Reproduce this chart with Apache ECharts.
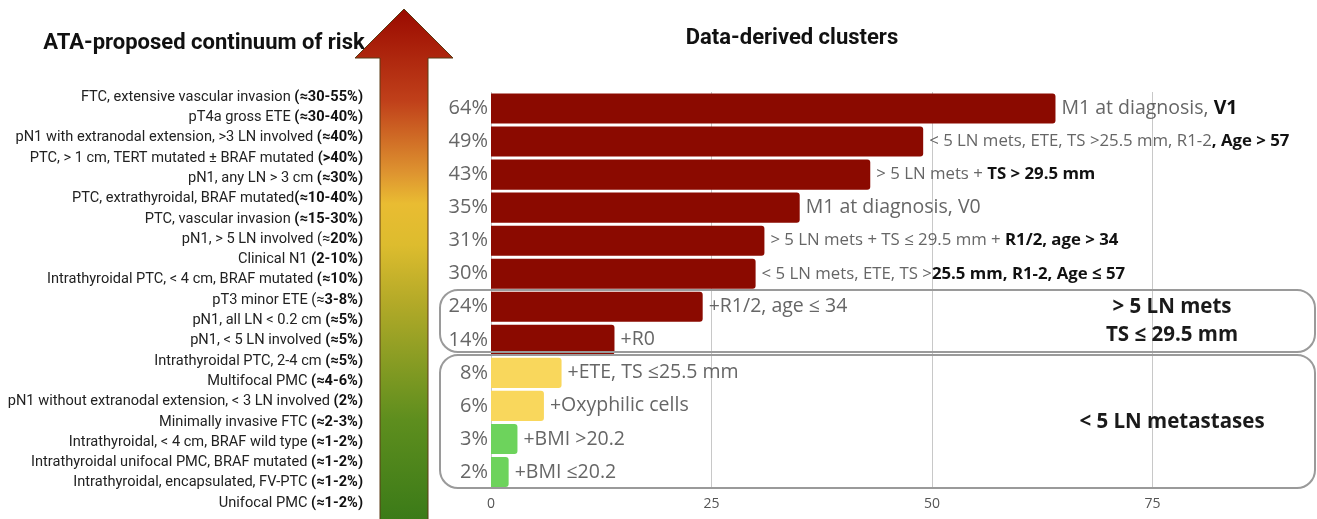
<!DOCTYPE html>
<html>
<head>
<meta charset="utf-8">
<script src="https://cdn.jsdelivr.net/npm/echarts@6/dist/echarts.min.js"></script>
<style>
html,body{margin:0;padding:0;background:#fff;}
#chart{width:1317px;height:519px;}
</style>
</head>
<body>
<div id="chart"></div>
<script>
// ---- Data ----
const clusterValues = [64, 49, 43, 35, 31, 30, 24, 14, 8, 6, 3, 2];
const clusterTier = ['high','high','high','high','high','high','high','high','mid','mid','low','low'];
const clusterPlain = [
  'M1 at diagnosis, ',
  '< 5 LN mets, ETE, TS >25.5 mm, R1-2',
  '> 5 LN mets + ',
  'M1 at diagnosis, V0',
  '> 5 LN mets + TS \u2264 29.5 mm + ',
  '< 5 LN mets, ETE, TS >',
  '+R1/2, age \u2264 34',
  '+R0',
  '+ETE, TS \u226425.5 mm',
  '+Oxyphilic cells',
  '+BMI >20.2',
  '+BMI \u226420.2'
];
const clusterBold = ['V1', ', Age > 57', 'TS > 29.5 mm', '', 'R1/2, age > 34', '25.5 mm, R1-2, Age \u2264 57', '', '', '', '', '', ''];
const xTicks = [0, 25, 50, 75];

const ataPlain = [
  'FTC, extensive vascular invasion ',
  'pT4a gross ETE ',
  'pN1 with extranodal extension, >3 LN involved ',
  'PTC, > 1 cm, TERT mutated \u00b1 BRAF mutated ',
  'pN1, any LN > 3 cm ',
  'PTC, extrathyroidal, BRAF mutated',
  'PTC, vascular invasion ',
  'pN1, > 5 LN involved (\u2248',
  'Clinical N1 ',
  'Intrathyroidal PTC, < 4 cm, BRAF mutated ',
  'pT3 minor ETE (\u2248',
  'pN1, all LN < 0.2 cm ',
  'pN1, < 5 LN involved ',
  'Intrathyroidal PTC, 2-4 cm ',
  'Multifocal PMC ',
  'pN1 without extranodal extension, < 3 LN involved ',
  'Minimally invasive FTC ',
  'Intrathyroidal, < 4 cm, BRAF wild type ',
  'Intrathyroidal unifocal PMC, BRAF mutated ',
  'Intrathyroidal, encapsulated, FV-PTC ',
  'Unifocal PMC '
];
const ataRisk = [
  '(\u224830-55%)', '(\u224830-40%)', '(\u224840%)', '(>40%)', '(\u224830%)', '(\u224810-40%)', '(\u224815-30%)',
  '20%)', '(2-10%)', '(\u224810%)', '3-8%)', '(\u22485%)', '(\u22485%)', '(\u22485%)', '(\u22484-6%)', '(2%)',
  '(\u22482-3%)', '(\u22481-2%)', '(\u22481-2%)', '(\u22481-2%)', '(\u22481-2%)'
];

// ---- Styles ----
const tierColor = { high: '#8B0A00', mid: '#F9D75C', low: '#6DD35C' };
const sideFont = '"Open Sans", "DejaVu Sans", sans-serif';
const leftFont = 'Roboto, "Noto Sans", sans-serif';

const chart = echarts.init(document.getElementById('chart'), null, { renderer: 'canvas' });

const option = {
  animation: false,
  backgroundColor: '#ffffff',
  title: [
    { text: 'ATA-proposed continuum of risk', left: 199, top: 27, textAlign: 'center',
      textStyle: { fontFamily: leftFont, fontWeight: 'bold', fontSize: 22, color: '#111' } },
    { text: 'Data-derived clusters', left: 787, top: 22, textAlign: 'center',
      textStyle: { fontFamily: leftFont, fontWeight: 'bold', fontSize: 22, color: '#111' } }
  ],
  grid: [
    { left: 491, width: 882, top: 92, bottom: 30.5, containLabel: false, outerBoundsMode: 'none' },
    { left: 364, width: 1, top: 86.9, bottom: 5.8, containLabel: false, outerBoundsMode: 'none' }
  ],
  xAxis: [
    { gridIndex: 0, type: 'value', min: 0, max: 100, interval: 25,
      axisLine: { show: false }, axisTick: { show: false },
      splitLine: { show: true, lineStyle: { color: '#c8c8c8', width: 1 } },
      axisLabel: { fontFamily: sideFont, fontSize: 14, color: '#555', margin: 9,
        formatter: v => (xTicks.indexOf(v) >= 0 ? String(v) : '') } },
    { gridIndex: 1, type: 'value', show: false }
  ],
  yAxis: [
    { gridIndex: 0, type: 'category', inverse: true,
      data: clusterValues.map(v => v + '%'),
      axisLine: { show: false }, axisTick: { show: false }, splitLine: { show: false },
      axisLabel: { fontFamily: sideFont, fontSize: 20, color: '#666', margin: 3 } },
    { gridIndex: 1, type: 'category', inverse: true, data: ataPlain,
      axisLine: { show: false }, axisTick: { show: false }, splitLine: { show: false },
      axisLabel: { margin: 1, interval: 0,
        formatter: (v, i) => '{n|' + v + '}{b|' + ataRisk[i] + '}',
        rich: {
          n: { fontFamily: leftFont, fontSize: 14.6, color: '#222' },
          b: { fontFamily: leftFont, fontSize: 14.6, color: '#111', fontWeight: 'bold' }
        } } }
  ],
  series: [{
    type: 'bar',
    xAxisIndex: 0, yAxisIndex: 0,
    barCategoryGap: '9%',
    data: clusterValues.map((v, i) => ({ value: v, itemStyle: { color: tierColor[clusterTier[i]] } })),
    itemStyle: { borderRadius: [0, 3, 3, 0] },
    label: {
      show: true, position: 'right', distance: 6,
      formatter: p => {
        const i = p.dataIndex;
        const small = (clusterPlain[i] + clusterBold[i]).length > 22;
        const s = small ? 's' : 'l';
        let out = '{' + s + 'n|' + clusterPlain[i] + '}';
        if (clusterBold[i]) out += '{' + s + 'b|' + clusterBold[i] + '}';
        return out;
      },
      rich: {
        sn: { fontFamily: sideFont, fontSize: 16.8, color: '#666' },
        sb: { fontFamily: sideFont, fontSize: 16.8, color: '#111', fontWeight: 'bold' },
        ln: { fontFamily: sideFont, fontSize: 19.5, color: '#666' },
        lb: { fontFamily: sideFont, fontSize: 19.5, color: '#111', fontWeight: 'bold' }
      }
    }
  }],
  graphic: [
    {
      type: 'polygon', z: 10,
      shape: { points: [[404, 9], [453, 58], [428, 58], [428, 522], [380, 522], [380, 58], [355, 58]] },
      style: {
        stroke: '#5a3a14', lineWidth: 1,
        fill: new echarts.graphic.LinearGradient(0, 0, 0, 1, [
          { offset: 0, color: '#9A0A00' },
          { offset: 0.18, color: '#C0401A' },
          { offset: 0.32, color: '#DE9430' },
          { offset: 0.38, color: '#E9BC32' },
          { offset: 0.46, color: '#DDBC2E' },
          { offset: 0.57, color: '#B4AA28' },
          { offset: 0.67, color: '#8E9E24' },
          { offset: 0.80, color: '#5E8E1E' },
          { offset: 1, color: '#3A7A18' }
        ])
      }
    },
    { type: 'rect', z: 5, shape: { x: 440, y: 290, width: 875, height: 62, r: 18 },
      style: { fill: 'none', stroke: '#9a9a9a', lineWidth: 2 } },
    { type: 'rect', z: 5, shape: { x: 440, y: 355, width: 875, height: 133, r: 18 },
      style: { fill: 'none', stroke: '#9a9a9a', lineWidth: 2 } },
    { type: 'text', z: 11, x: 1172, y: 307,
      style: { text: '> 5 LN mets', fontFamily: sideFont, fontWeight: 'bold', fontSize: 20.5, fill: '#1a1a1a', align: 'center', verticalAlign: 'middle' } },
    { type: 'text', z: 11, x: 1172, y: 335,
      style: { text: 'TS \u2264 29.5 mm', fontFamily: sideFont, fontWeight: 'bold', fontSize: 20.5, fill: '#1a1a1a', align: 'center', verticalAlign: 'middle' } },
    { type: 'text', z: 11, x: 1172, y: 422,
      style: { text: '< 5 LN metastases', fontFamily: sideFont, fontWeight: 'bold', fontSize: 20.5, fill: '#1a1a1a', align: 'center', verticalAlign: 'middle' } }
  ]
};
chart.setOption(option);
</script>
</body>
</html>
